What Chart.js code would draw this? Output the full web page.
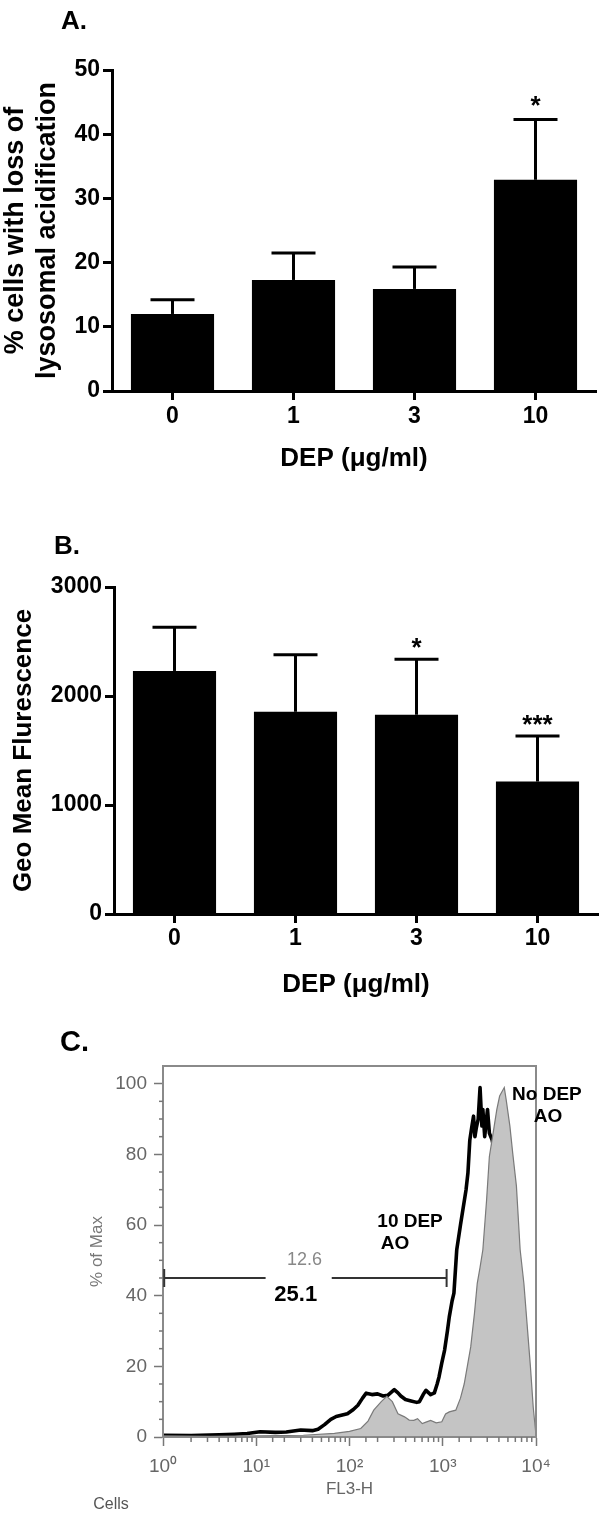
<!DOCTYPE html>
<html><head><meta charset="utf-8">
<script src="https://cdn.jsdelivr.net/npm/chart.js@4"></script>
<style>
html,body{margin:0;padding:0;background:#fff;width:611px;height:1518px;overflow:hidden;}
canvas{position:absolute;left:0;}
</style></head><body>
<canvas id="cA" width="611" height="500" style="top:0px"></canvas>
<canvas id="cB" width="611" height="520" style="top:500px"></canvas>
<canvas id="cC" width="611" height="508" style="top:1010px"></canvas>
<script>
// ---------- data ----------
const doseLabels = ['0', '1', '3', '10'];
const lysoMean = [12.0, 17.3, 15.9, 32.9];
const lysoSem  = [2.2, 4.2, 3.4, 9.4];
const lysoSig  = ['', '', '', '*'];
const geoMean  = [2230, 1855, 1828, 1215];
const geoSem   = [400, 524, 509, 417];
const geoSig   = ['', '', '*', '***'];

// FL3-H histogram, 10 DEP AO (black line)
const tenDepX = [1, 2, 4, 5.8, 8, 11, 16, 21, 30, 40, 46, 54, 63, 72, 95, 110, 123, 138, 151, 174, 200, 229, 257, 302, 331, 355, 398, 457, 525, 562, 617, 661, 741, 813, 871, 912, 977, 1047, 1122, 1175, 1259, 1318, 1413, 1549, 1660, 1778, 1862, 1950, 2042, 2138, 2213, 2291, 2399, 2512, 2630, 2692, 2818, 2917, 3020, 3162, 3388, 3631, 3981, 4467, 5012, 5623, 6310, 7079, 7943, 8913, 10000];
const tenDepY = [0.5, 0.4, 0.6, 0.8, 1.0, 1.5, 1.3, 1.4, 2.0, 1.8, 2.2, 3.5, 5.0, 5.8, 6.6, 7.8, 9.0, 11.0, 12.4, 12.0, 12.2, 11.6, 11.8, 13.4, 12.5, 11.6, 10.6, 10.2, 9.8, 10.0, 12.0, 13.2, 12.0, 12.5, 15.0, 17.0, 21.0, 24.6, 30.0, 34.0, 38.5, 40.7, 53.0, 60.0, 65.0, 70.0, 74.7, 84.0, 87.5, 90.8, 85.0, 87.5, 90.0, 98.9, 88.0, 92.7, 85.0, 89.0, 92.7, 86.0, 84.0, 80.0, 72.0, 60.0, 46.0, 32.0, 19.0, 9.0, 3.5, 1.0, 0.3];
// FL3-H histogram, No DEP AO (grey filled)
const noDepX = [1, 3.2, 10, 32, 69, 100, 132, 158, 182, 219, 251, 288, 331, 389, 437, 490, 537, 603, 661, 741, 851, 977, 1072, 1175, 1380, 1549, 1698, 1862, 1995, 2188, 2344, 2512, 2692, 2951, 3162, 3467, 3802, 4074, 4570, 4786, 5248, 5623, 6166, 6761, 7413, 8710, 9333, 10000];
const noDepY = [0.3, 0.2, 0.3, 0.5, 1.0, 1.6, 2.4, 4.5, 7.6, 10.0, 11.5, 10.0, 6.6, 5.7, 4.8, 4.7, 5.2, 3.8, 4.2, 4.7, 4.0, 4.3, 6.5, 7.1, 7.6, 11.0, 15.0, 21.0, 25.5, 35.0, 43.5, 48.0, 53.0, 67.0, 79.4, 86.0, 92.7, 96.5, 98.9, 95.5, 88.0, 80.4, 71.0, 53.0, 43.5, 20.0, 8.5, 0.5];
const pctTicks = [0, 20, 40, 60, 80, 100];
const decadeTicks = [1, 10, 100, 1000, 10000];

// ---------- helpers ----------
const FONT = "'Liberation Sans', Arial, Helvetica, sans-serif";
Chart.defaults.font.family = FONT;
const isPow10 = v => Math.abs(Math.log10(v) - Math.round(Math.log10(v))) < 1e-6;
const SUP = ['\u2070', '\u00B9', '\u00B2', '\u00B3', '\u2074'];
function seg(ctx, x0, y0, x1, y1) { ctx.beginPath(); ctx.moveTo(x0, y0); ctx.lineTo(x1, y1); ctx.stroke(); }

const errBars = {
  id: 'errBars',
  afterDatasetsDraw(chart, args, opts) {
    const {ctx} = chart, ys = chart.scales.y;
    const meta = chart.getDatasetMeta(0);
    const vals = chart.data.datasets[0].data;
    ctx.save();
    ctx.strokeStyle = '#000'; ctx.fillStyle = '#000'; ctx.lineWidth = 3; ctx.lineCap = 'butt';
    meta.data.forEach((bar, i) => {
      const yTop = ys.getPixelForValue(vals[i] + opts.sem[i]);
      seg(ctx, bar.x, bar.y, bar.x, yTop);
      seg(ctx, bar.x - 22, yTop, bar.x + 22, yTop);
      if (opts.sig[i]) {
        ctx.font = 'bold 26px ' + FONT; ctx.textAlign = 'center'; ctx.textBaseline = 'alphabetic';
        ctx.fillText(opts.sig[i], bar.x, yTop - opts.sigOff);
      }
    });
    // panel letter
    ctx.font = 'bold 26px ' + FONT; ctx.textAlign = 'left'; ctx.textBaseline = 'middle';
    ctx.fillText(opts.letter, opts.letterX, opts.letterY);
    ctx.restore();
  }
};

function barChart(id, o) {
  const H = o.height;
  return new Chart(document.getElementById(id), {
    type: 'bar',
    data: {labels: doseLabels, datasets: [{data: o.values, backgroundColor: '#000', borderWidth: 0, barPercentage: 0.687, categoryPercentage: 1}]},
    options: {
      responsive: false, animation: false, events: [],
      layout: {padding: {top: o.top, right: 611 - o.right, left: 0, bottom: 0}},
      plugins: {legend: {display: false}, tooltip: {enabled: false},
        errBars: {sem: o.sem, sig: o.sig, sigOff: o.sigOff, letter: o.letter, letterX: o.letterX, letterY: o.letterY}},
      scales: {
        x: {type: 'category', offset: true,
          grid: {offset: false, drawOnChartArea: false, tickLength: 9, tickWidth: 3, tickColor: '#000'},
          border: {color: '#000', width: 3},
          ticks: {color: '#000', font: {size: 23, weight: 'bold'}, padding: o.xTickPad, maxRotation: 0},
          title: {display: true, text: 'DEP (\u03BCg/ml)', color: '#000', font: {size: 26, weight: 'bold', lineHeight: 1.2}, padding: {top: 0, bottom: o.xTitlePad}},
          afterFit(s) { s.height = H - o.bottom; }},
        y: {min: 0, max: o.max,
          ticks: {stepSize: o.step, color: '#000', font: {size: 23, weight: 'bold'}, padding: 3, callback: v => String(v)},
          grid: {drawOnChartArea: false, tickLength: 9, tickWidth: 3, tickColor: '#000'},
          border: {color: '#000', width: 3},
          title: {display: true, text: o.yTitle, color: '#000', font: {size: o.yTitleSize, weight: 'bold', lineHeight: o.yTitleLH}, padding: {top: o.yTitlePad, bottom: 0}},
          afterFit(s) { s.width = o.left; }}
      }
    },
    plugins: [errBars]
  });
}

barChart('cA', {height: 500, top: 70, bottom: 391, left: 112, right: 596, max: 50, step: 10,
  values: lysoMean, sem: lysoSem, sig: lysoSig, sigOff: 5, xTickPad: 3, xTitlePad: 26,
  yTitle: ['% cells with loss of', 'lysosomal acidification'], yTitleSize: 27, yTitleLH: 1.18, yTitlePad: 0,
  letter: 'A.', letterX: 61, letterY: 22});

barChart('cB', {height: 520, top: 87, bottom: 414, left: 114, right: 598, max: 3000, step: 1000,
  values: geoMean, sem: geoSem, sig: geoSig, sigOff: 3, xTickPad: 2, xTitlePad: 20,
  yTitle: 'Geo Mean Flurescence', yTitleSize: 26, yTitleLH: 1.2, yTitlePad: 8,
  letter: 'B.', letterX: 54, letterY: 47});

// ---------- panel C ----------
const flowDeco = {
  id: 'flowDeco',
  afterDraw(chart) {
    const {ctx, chartArea: a, scales: {x, y}} = chart;
    ctx.save();
    // frame
    ctx.strokeStyle = '#8a8a8a'; ctx.lineWidth = 2;
    ctx.strokeRect(a.left, a.top, a.right - a.left, a.bottom - a.top);
    // minor ticks
    ctx.strokeStyle = '#777'; ctx.lineWidth = 1.5;
    y.ticks.forEach(t => { if (t.value % 20 !== 0) { const p = y.getPixelForValue(t.value); seg(ctx, a.left - 4, p, a.left, p); } });
    x.ticks.forEach(t => { if (!isPow10(t.value)) { const p = x.getPixelForValue(t.value); seg(ctx, p, a.bottom, p, a.bottom + 5); } });
    // gate
    const gy = y.getPixelForValue(45);
    const g0 = x.getPixelForValue(1.03), g1 = x.getPixelForValue(1100);
    const gA = x.getPixelForValue(12.6), gB = x.getPixelForValue(64.5);
    ctx.strokeStyle = '#333'; ctx.lineWidth = 2;
    seg(ctx, g0, gy, gA, gy); seg(ctx, gB, gy, g1, gy);
    seg(ctx, g0, gy - 9, g0, gy + 9); seg(ctx, g1, gy - 9, g1, gy + 9);
    // labels
    ctx.textAlign = 'center'; ctx.textBaseline = 'middle';
    const put = (t, xv, yv, font, col) => { ctx.font = font; ctx.fillStyle = col; ctx.fillText(t, x.getPixelForValue(xv), y.getPixelForValue(yv)); };
    put('12.6', 33, 50, '18px ' + FONT, '#888');
    put('25.1', 26.5, 40.2, 'bold 22px ' + FONT, '#000');
    put('10 DEP', 446, 61, 'bold 19px ' + FONT, '#000');
    put('AO', 307, 54.7, 'bold 19px ' + FONT, '#000');
    put('No DEP', 13100, 97, 'bold 19px ' + FONT, '#000');
    put('AO', 13450, 90.7, 'bold 19px ' + FONT, '#000');
    ctx.font = '16px ' + FONT; ctx.fillStyle = '#555';
    ctx.fillText('Cells', 111, 495);
    ctx.font = 'bold 29px ' + FONT; ctx.fillStyle = '#000'; ctx.textAlign = 'left';
    ctx.fillText('C.', 60, 33);
    ctx.restore();
  }
};

new Chart(document.getElementById('cC'), {
  type: 'line',
  data: {datasets: [
    {label: 'No DEP AO', data: noDepX.map((v, i) => ({x: v, y: noDepY[i]})), borderColor: '#7a7a7a', borderWidth: 1.2,
      backgroundColor: '#c4c4c4', fill: 'origin', pointRadius: 0, tension: 0},
    {label: '10 DEP AO', data: tenDepX.map((v, i) => ({x: v, y: tenDepY[i]})), borderColor: '#000', borderWidth: 3.6,
      fill: false, pointRadius: 0, tension: 0, borderJoinStyle: 'round'}
  ]},
  options: {
    responsive: false, animation: false, events: [],
    layout: {padding: {top: 56, right: 75, left: 0, bottom: 0}},
    plugins: {legend: {display: false}, tooltip: {enabled: false}},
    scales: {
      x: {type: 'logarithmic', min: 1, max: 10000,
        grid: {drawOnChartArea: false, tickLength: 9, tickWidth: 1.5,
          tickColor: c => (c.tick && isPow10(c.tick.value)) ? '#777' : 'rgba(0,0,0,0)'},
        border: {color: '#8a8a8a', width: 2},
        ticks: {autoSkip: false, maxRotation: 0, color: '#666', font: {size: 19}, padding: 9,
          callback: v => decadeTicks.includes(v) ? '10' + SUP[Math.round(Math.log10(v))] : ''},
        title: {display: true, text: 'FL3-H', color: '#666', font: {size: 17, lineHeight: 1.2}, padding: {top: 0, bottom: 18}},
        afterFit(s) { s.height = 81; }},
      y: {min: 0, max: 105,
        afterBuildTicks(s) { s.ticks = s.ticks.filter(t => t.value <= 100); },
        grid: {drawOnChartArea: false, tickLength: 9, tickWidth: 1.5,
          tickColor: c => (c.tick && c.tick.value % 20 === 0) ? '#777' : 'rgba(0,0,0,0)'},
        border: {color: '#8a8a8a', width: 2},
        ticks: {stepSize: 5, autoSkip: false, color: '#666', font: {size: 19}, padding: 7,
          callback: v => pctTicks.includes(v) ? String(v) : ''},
        title: {display: true, text: '% of Max', color: '#777', font: {size: 17, lineHeight: 1.2}, padding: {top: 87, bottom: 0}},
        afterFit(s) { s.width = 163; }}
    }
  },
  plugins: [flowDeco]
});
</script>
</body></html>
